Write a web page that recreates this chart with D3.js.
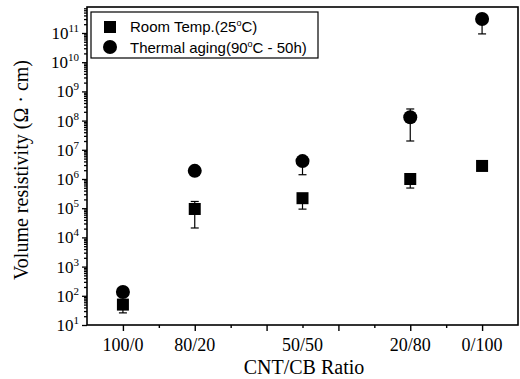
<!DOCTYPE html>
<html><head><meta charset="utf-8">
<script src="https://cdn.jsdelivr.net/npm/d3@7"></script>
<style>body{margin:0;background:#fff}svg{display:block}</style>
</head><body><svg id="c" width="520" height="379"></svg>
<script>
const categories = ["100/0","80/20","50/50","20/80","0/100"];
const catPos = [1, 2, 3.5, 5, 6];
const roomTemp = [50, 9.4e4, 2.2e5, 1.0e6, 2.8e6];
const roomLow  = [26, 2.1e4, 9.3e4, 4.9e5, 2.8e6];
const roomHigh = [50, 1.7e5, 2.2e5, 1.0e6, 2.8e6];
const aging     = [135, 1.9e6, 4.1e6, 1.3e8, 3.0e11];
const agingLow  = [135, 1.9e6, 1.4e6, 2.0e7, 9.3e10];
const agingHigh = [135, 1.9e6, 4.1e6, 2.5e8, 3.0e11];
const yExponents = [1,2,3,4,5,6,7,8,9,10,11];
const legendLabels = ["Room Temp.(25", "Thermal aging(90"];
const legendTails = ["C)", "C - 50h)"];

const svg = d3.select("#c");
const L = 87, R = 518, T = 7, B = 325;
const x = d3.scaleLinear().domain([0.5, 6.5]).range([L, R]);
const y = d3.scaleLog().domain([10, Math.pow(10, 11.89)]).range([B, T]);

// frame
svg.append("rect").attr("x", L).attr("y", T).attr("width", R - L).attr("height", B - T)
  .attr("fill", "none").attr("stroke", "#000").attr("stroke-width", 1.6);

// x axis ticks
const xMajor = [1,2,3,4,5,6];
const xMinor = [1.5,2.5,3.5,4.5,5.5];
const gx = svg.append("g").attr("transform", `translate(0,${B})`);
gx.call(d3.axisBottom(x).tickValues(xMajor).tickSize(6).tickFormat(""));
gx.append("g").call(d3.axisBottom(x).tickValues(xMinor).tickSize(3).tickFormat(""));
gx.selectAll(".domain").remove();
gx.selectAll("line").attr("stroke-width", 1.4);

// y axis ticks
const yMinor = [];
for (let e = 1; e <= 11; e++) for (let m = 2; m <= 9; m++) { const v = m * Math.pow(10, e); if (v <= y.domain()[1]) yMinor.push(v); }
const gy = svg.append("g").attr("transform", `translate(${L},0)`);
gy.call(d3.axisLeft(y).tickValues(yExponents.map(e => Math.pow(10, e))).tickSize(5).tickFormat(""));
gy.append("g").call(d3.axisLeft(y).tickValues(yMinor).tickSize(3).tickFormat(""));
gy.selectAll(".domain").remove();
gy.selectAll("line").attr("stroke-width", 1.3);

// y tick labels
const yl = svg.append("g").attr("font-family", "Liberation Serif, serif").attr("fill", "#000");
yExponents.forEach(e => {
  const t = yl.append("text").attr("x", 79).attr("y", y(Math.pow(10, e)) + 6)
    .attr("text-anchor", "end").attr("font-size", 17);
  t.append("tspan").text("10");
  t.append("tspan").attr("dy", -7).attr("font-size", 11).text(e);
});

// x tick labels
svg.append("g").selectAll("text").data(categories).join("text")
  .attr("x", (d, i) => x(catPos[i])).attr("y", 351)
  .attr("text-anchor", "middle").attr("font-family", "Liberation Serif, serif")
  .attr("font-size", 18).text(d => d);

// axis titles
svg.append("text").attr("x", 304).attr("y", 374).attr("text-anchor", "middle")
  .attr("font-family", "Liberation Serif, serif").attr("font-size", 20).text("CNT/CB Ratio");
svg.append("text").attr("transform", "translate(28,170) rotate(-90)").attr("text-anchor", "middle")
  .attr("font-family", "Liberation Serif, serif").attr("font-size", 20).text("Volume resistivity (Ω · cm)");

// error bars
function errBars(vals, lo, hi) {
  const g = svg.append("g").attr("stroke", "#000").attr("stroke-width", 1.2);
  vals.forEach((v, i) => {
    const cx = x(catPos[i]);
    if (lo[i] < v) {
      g.append("line").attr("x1", cx).attr("x2", cx).attr("y1", y(v)).attr("y2", y(lo[i]));
      g.append("line").attr("x1", cx - 4).attr("x2", cx + 4).attr("y1", y(lo[i])).attr("y2", y(lo[i]));
    }
    if (hi[i] > v) {
      g.append("line").attr("x1", cx).attr("x2", cx).attr("y1", y(v)).attr("y2", y(hi[i]));
      g.append("line").attr("x1", cx - 4).attr("x2", cx + 4).attr("y1", y(hi[i])).attr("y2", y(hi[i]));
    }
  });
}
errBars(roomTemp, roomLow, roomHigh);
errBars(aging, agingLow, agingHigh);

// markers
svg.append("g").selectAll("rect").data(roomTemp).join("rect")
  .attr("x", (d, i) => x(catPos[i]) - 6).attr("y", d => y(d) - 6)
  .attr("width", 12).attr("height", 12).attr("fill", "#000");
svg.append("g").selectAll("circle").data(aging).join("circle")
  .attr("cx", (d, i) => x(catPos[i])).attr("cy", d => y(d)).attr("r", 7).attr("fill", "#000");

// legend
const lg = svg.append("g");
lg.append("rect").attr("x", 91).attr("y", 12).attr("width", 227).attr("height", 46)
  .attr("fill", "#fff").attr("stroke", "#000").attr("stroke-width", 1.2);
lg.append("rect").attr("x", 104).attr("y", 21).attr("width", 12).attr("height", 12).attr("fill", "#000");
lg.append("circle").attr("cx", 110).attr("cy", 47).attr("r", 7).attr("fill", "#000");
[0, 1].forEach(i => {
  const t = lg.append("text").attr("x", 130).attr("y", i === 0 ? 32 : 53)
    .attr("font-family", "Liberation Sans, Arial, sans-serif").attr("font-size", 15);
  t.append("tspan").text(legendLabels[i]);
  t.append("tspan").attr("dy", -6).attr("font-size", 9).text("o");
  t.append("tspan").attr("dy", 6).text(legendTails[i]);
});
</script></body></html>
